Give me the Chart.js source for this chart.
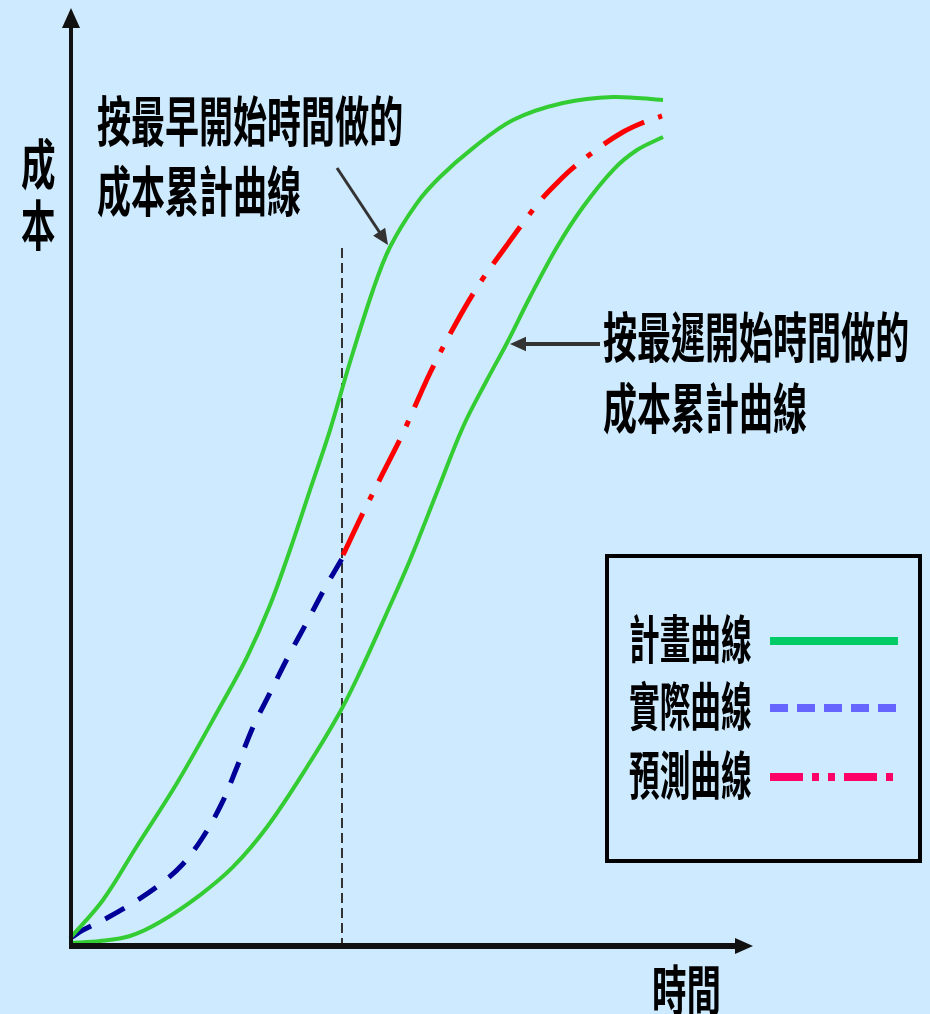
<!DOCTYPE html>
<html>
<head>
<meta charset="utf-8">
<script src="https://cdn.jsdelivr.net/npm/chart.js@4/dist/chart.umd.min.js"></script>
<style>
  html, body { margin: 0; padding: 0; background: #cdeafe; }
  canvas { display: block; }
</style>
</head>
<body>
<canvas id="myChart" width="930" height="1014"></canvas>
<script>
// time (0-100) and cumulative cost (0-100)
const earlyTime = [0, 4.85, 9.85, 15.74, 22.06, 26.03, 29.41, 32.35, 35.29, 38.24, 41.18, 44.56, 47.06, 51.03, 54.41, 59.26, 65.15, 72.50, 79.85, 87.21]
const earlyCost = [0.5, 4.61, 10.40, 17.15, 25.29, 30.65, 36.20, 42.12, 48.55, 54.98, 62.27, 69.99, 74.60, 79.31, 82.10, 85.20, 88.21, 90.03, 90.68, 90.35]

const lateTime = [0, 4.41, 8.82, 13.24, 19.12, 23.97, 28.97, 34.85, 39.71, 42.65, 46.32, 50.00, 53.97, 57.79, 61.32, 64.26, 67.65, 71.62, 75.44, 79.85, 83.38, 87.21]
const lateCost = [0, 0.21, 0.75, 2.25, 5.14, 8.15, 12.43, 18.86, 24.76, 29.05, 34.94, 41.05, 48.34, 55.31, 60.34, 64.31, 69.24, 74.60, 78.89, 82.85, 84.99, 86.39]

const actualTime = [0.29, 1.91, 5.44, 9.26, 12.94, 16.47, 19.56, 22.35, 24.56, 26.91, 29.41, 32.06, 34.85, 37.50, 40.15]
const actualCost = [0.64, 1.39, 2.68, 4.29, 6.11, 8.36, 11.36, 15.01, 18.86, 23.15, 26.80, 30.65, 34.41, 38.05, 41.37]

const forecastTime = [40.15, 43.09, 46.03, 48.97, 52.94, 56.62, 60.29, 64.26, 66.62, 69.12, 71.62, 73.97, 77.94, 81.32, 84.12, 87.06]
const forecastCost = [41.59, 46.09, 50.38, 54.66, 61.09, 66.24, 70.74, 74.81, 77.17, 79.53, 81.46, 83.07, 85.32, 86.92, 87.89, 88.64]

const statusTime = 40      // the dashed "today" line
const statusTop = 74.5

const legendLabels = ['計畫曲線', '實際曲線', '預測曲線']
const earlyNote = ['按最早開始時間做的', '成本累計曲線']
const lateNote = ['按最遲開始時間做的', '成本累計曲線']
const yTitle = ['成', '本']
const xTitle = '時間'

function pts(xs, ys) {
  let out = []
  for (let i = 0; i < xs.length; i++) out.push({x: xs[i], y: ys[i]})
  return out
}

const FONT = '"Noto Sans CJK TC", "Noto Sans CJK SC", sans-serif'

function narrowText(ctx, str, x, y, size, sx) {
  ctx.save()
  ctx.font = 'bold ' + size + 'px ' + FONT
  ctx.fillStyle = '#000'
  ctx.textAlign = 'left'
  ctx.textBaseline = 'middle'
  ctx.translate(x, y)
  ctx.scale(sx, 1)
  ctx.fillText(str, 0, 0)
  ctx.restore()
}

function arrow(ctx, x1, y1, x2, y2, width, head, color) {
  let a = Math.atan2(y2 - y1, x2 - x1)
  ctx.save()
  ctx.strokeStyle = color
  ctx.fillStyle = color
  ctx.lineWidth = width
  ctx.beginPath()
  ctx.moveTo(x1, y1)
  ctx.lineTo(x2 - Math.cos(a) * head * 0.6, y2 - Math.sin(a) * head * 0.6)
  ctx.stroke()
  ctx.beginPath()
  ctx.moveTo(x2, y2)
  ctx.lineTo(x2 - head * Math.cos(a) + head * 0.45 * Math.sin(a), y2 - head * Math.sin(a) - head * 0.45 * Math.cos(a))
  ctx.lineTo(x2 - head * Math.cos(a) - head * 0.45 * Math.sin(a), y2 - head * Math.sin(a) + head * 0.45 * Math.cos(a))
  ctx.closePath()
  ctx.fill()
  ctx.restore()
}

const decor = {
  id: 'decor',
  beforeDraw(chart) {
    const ctx = chart.ctx
    ctx.save()
    ctx.fillStyle = '#cdeafe'
    ctx.fillRect(0, 0, chart.width, chart.height)
    ctx.restore()
  },
  beforeDatasetsDraw(chart) {
    const ctx = chart.ctx
    const xs = chart.scales.x, ys = chart.scales.y
    let px = xs.getPixelForValue(statusTime)
    ctx.save()
    ctx.strokeStyle = '#333'
    ctx.lineWidth = 2
    ctx.setLineDash([10, 5])
    ctx.beginPath()
    ctx.moveTo(px, ys.getPixelForValue(statusTop))
    ctx.lineTo(px, ys.getPixelForValue(0))
    ctx.stroke()
    ctx.restore()
  },
  afterDraw(chart) {
    const ctx = chart.ctx
    const area = chart.chartArea
    // axes with arrow heads
    arrow(ctx, area.left + 1, area.bottom + 3, area.left + 1, 8, 4, 20, '#111')
    arrow(ctx, area.left - 1, area.bottom + 3, area.right + 3, area.bottom + 3, 6, 18, '#111')

    // axis titles
    narrowText(ctx, yTitle[0], 21, 164, 54, 0.64)
    narrowText(ctx, yTitle[1], 21, 225, 54, 0.64)
    narrowText(ctx, xTitle, 652, 990, 54, 0.64)

    // notes
    narrowText(ctx, earlyNote[0], 97, 121, 54, 0.63)
    narrowText(ctx, earlyNote[1], 97, 191, 54, 0.63)
    arrow(ctx, 337, 168, 388, 245, 3, 16, '#333')
    narrowText(ctx, lateNote[0], 603, 337, 54, 0.63)
    narrowText(ctx, lateNote[1], 603, 408, 54, 0.63)
    arrow(ctx, 600, 344, 510, 344, 4, 16, '#333')

    // legend box
    ctx.save()
    ctx.strokeStyle = '#000'
    ctx.lineWidth = 4
    ctx.strokeRect(607, 556, 313, 305)
    ctx.restore()
    const rows = [641, 708, 777]
    const sampleColors = ['#00cc66', '#6666ff', '#ff0066']
    const sampleDash = [[], [18, 9], [33, 9, 7, 9, 7, 9]]
    for (let i = 0; i < legendLabels.length; i++) {
      narrowText(ctx, legendLabels[i], 629, rows[i] - 2, 52, 0.59)
      ctx.save()
      ctx.strokeStyle = sampleColors[i]
      ctx.lineWidth = 8
      ctx.setLineDash(sampleDash[i])
      ctx.beginPath()
      ctx.moveTo(770, rows[i])
      ctx.lineTo(898, rows[i])
      ctx.stroke()
      ctx.restore()
    }
  }
}

const data = {
  datasets: [
    {label: legendLabels[0], data: pts(earlyTime, earlyCost), borderColor: '#33cc33', borderWidth: 4},
    {label: legendLabels[0], data: pts(lateTime, lateCost), borderColor: '#33cc33', borderWidth: 4},
    {label: legendLabels[1], data: pts(actualTime, actualCost), borderColor: '#000099', borderWidth: 5, borderDash: [22, 16]},
    {label: legendLabels[2], data: pts(forecastTime, forecastCost), borderColor: '#ff0000', borderWidth: 5, borderDash: [46, 15, 6, 15]}
  ]
}

const config = {
  type: 'line',
  data: data,
  options: {
    responsive: false,
    animation: false,
    layout: {padding: {left: 70, right: 180, top: 10, bottom: 71}},
    elements: {
      point: {radius: 0},
      line: {tension: 0.35, fill: false}
    },
    datasets: {line: {clip: false}},
    scales: {
      x: {type: 'linear', min: 0, max: 100, display: false},
      y: {type: 'linear', min: 0, max: 100, display: false}
    },
    plugins: {
      legend: {display: false},
      tooltip: {enabled: false}
    }
  },
  plugins: [decor]
}

const myChart = new Chart(document.getElementById('myChart'), config)
</script>
</body>
</html>
